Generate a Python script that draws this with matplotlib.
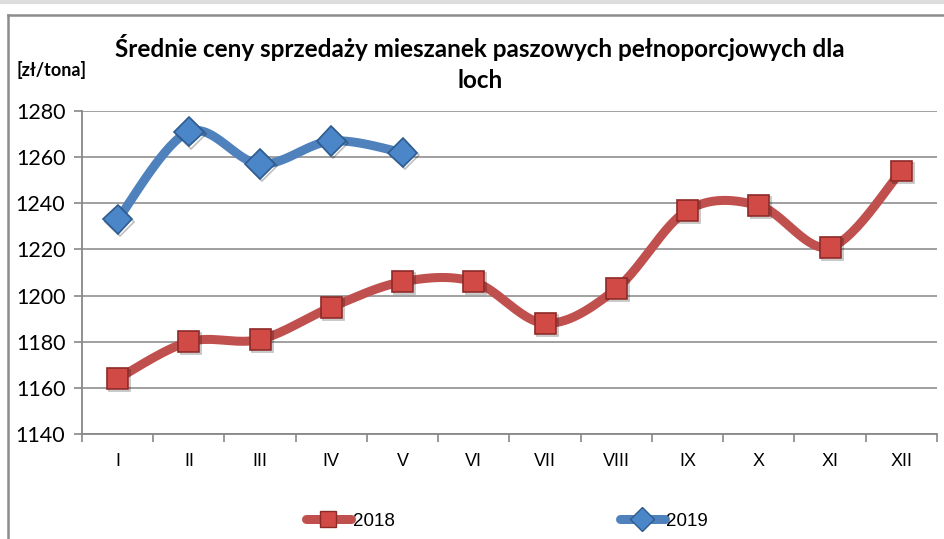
import numpy as np
import matplotlib
matplotlib.use("Agg")
import matplotlib.pyplot as plt
from matplotlib.lines import Line2D
import matplotlib.patheffects as pe

months = ["I", "II", "III", "IV", "V", "VI", "VII", "VIII", "IX", "X", "XI", "XII"]
v2018 = [1164, 1180, 1181, 1195, 1206, 1206, 1188, 1203, 1237, 1239, 1221, 1254]
v2019 = [1233, 1271, 1257, 1267, 1262]
yticks = [1140, 1160, 1180, 1200, 1220, 1240, 1260, 1280]
title = "Średnie ceny sprzedaży mieszanek paszowych pełnoporcjowych dla\nloch"
unit = "[zł/tona]"

RED = "#C0504D"
RED_E = "#8C2A27"
BLUE = "#4F81BD"
BLUE_E = "#2E5C8F"


def smooth(x, y, n=30):
    x = np.asarray(x, float)
    y = np.asarray(y, float)
    px = [x[0]]
    py = [y[0]]
    for i in range(len(x) - 1):
        p0 = np.array([x[max(i - 1, 0)], y[max(i - 1, 0)]])
        p1 = np.array([x[i], y[i]])
        p2 = np.array([x[i + 1], y[i + 1]])
        p3 = np.array([x[min(i + 2, len(x) - 1)], y[min(i + 2, len(x) - 1)]])
        c1 = p1 + (p2 - p0) / 6
        c2 = p2 - (p3 - p1) / 6
        t = np.linspace(0, 1, n)[1:, None]
        pts = ((1 - t) ** 3) * p1 + 3 * ((1 - t) ** 2) * t * c1 + 3 * (1 - t) * t ** 2 * c2 + t ** 3 * p2
        px.extend(pts[:, 0])
        py.extend(pts[:, 1])
    return np.array(px), np.array(py)


fig = plt.figure(figsize=(9.45, 5.39), dpi=100)
ax = fig.add_axes([82 / 945, 1 - 434 / 539, (937 - 82) / 945, (434 - 111) / 539])

x18 = np.arange(len(v2018))
x19 = np.arange(len(v2019))

shadow = [pe.SimpleLineShadow(offset=(1.5, -1.5), alpha=0.25), pe.Normal()]

sx, sy = smooth(x18, v2018)
ax.plot(sx, sy, color=RED, lw=6.5, solid_capstyle="round", zorder=3)
ax.plot(x18, v2018, ls="none", marker="s", ms=15, mfc="#D24A45", mec=RED_E, mew=1.2,
        zorder=4, path_effects=shadow)

sx, sy = smooth(x19, v2019)
ax.plot(sx, sy, color=BLUE, lw=6.5, solid_capstyle="round", zorder=3)
ax.plot(x19, v2019, ls="none", marker="D", ms=15, mfc="#4A86C8", mec=BLUE_E, mew=1.2,
        zorder=4, path_effects=shadow)

ax.set_xlim(-0.5, len(months) - 0.5)
ax.set_ylim(1140, 1280)
ax.set_yticks(yticks)
ax.set_yticklabels([str(v) for v in yticks], fontsize=15.5, family="Lato")
ax.set_xticks(x18)
ax.set_xticklabels(months, fontsize=13, family="Liberation Sans")
ax.set_xticks(np.arange(-0.5, len(months), 1), minor=True)
ax.tick_params(axis="x", which="major", length=0, pad=14)
ax.tick_params(axis="x", which="minor", length=6, color="#888888", width=1.2, direction="out")
ax.tick_params(axis="y", length=6, color="#888888", width=1.2, pad=6)
ax.grid(axis="y", color="#999999", lw=1.3)
ax.set_axisbelow(True)
for s in ["top", "right"]:
    ax.spines[s].set_visible(False)
for s in ["left", "bottom"]:
    ax.spines[s].set_color("#888888")
    ax.spines[s].set_linewidth(1.3)

fig.text(480 / 945, 1 - 63 / 539, title, ha="center", va="center", fontsize=17.5,
         fontweight="bold", family="Lato", linespacing=1.45)
fig.text(17 / 945, 1 - 70 / 539, unit, ha="left", va="center", fontsize=13,
         fontweight="bold", family="Lato")

h1 = Line2D([], [], color=RED, lw=6.5, marker="s", ms=12, mfc="#D24A45", mec=RED_E,
            solid_capstyle="round")
h2 = Line2D([], [], color=BLUE, lw=6.5, marker="D", ms=12, mfc="#4A86C8", mec=BLUE_E,
            solid_capstyle="round")
fig.legend([h1, h2], ["2018", "2019"], loc="center", bbox_to_anchor=(507 / 945, 1 - 521 / 539),
           ncol=2, frameon=False, columnspacing=12, handlelength=2.4, handletextpad=0.1,
           prop={"family": "Liberation Sans", "size": 13.5})

# chart frame
fig.add_artist(Line2D([0, 1], [1 - 1.5 / 539, 1 - 1.5 / 539], color="#DDDDDD", lw=3,
                      transform=fig.transFigure))
fig.add_artist(Line2D([8 / 945, 1], [1 - 15 / 539, 1 - 15 / 539], color="#8C8C8C", lw=1.8,
                      transform=fig.transFigure))
fig.add_artist(Line2D([8 / 945, 8 / 945], [0, 1 - 15 / 539], color="#8C8C8C", lw=1.8,
                      transform=fig.transFigure))

fig.savefig("out.png", dpi=100)
